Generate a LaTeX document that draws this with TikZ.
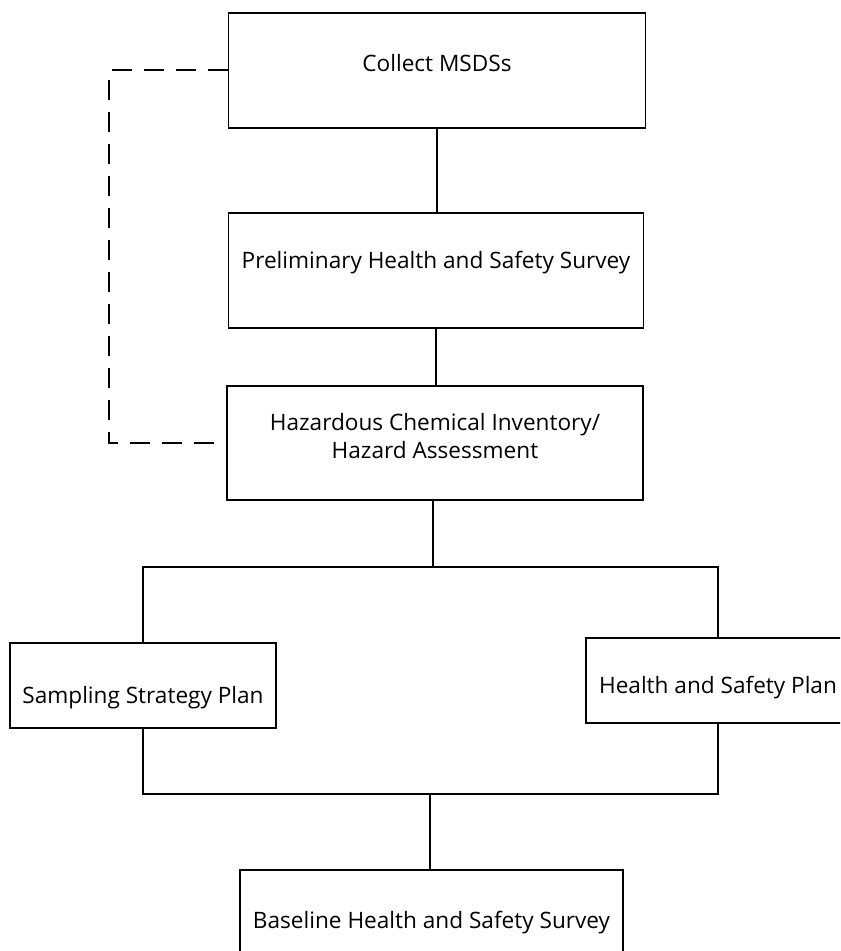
\documentclass[tikz,border=0pt]{standalone}
\usepackage{fontspec}
\setmainfont{Open Sans}
\begin{document}
\begin{tikzpicture}[x=0.5pt,y=-0.5pt,
  boxst/.style={draw, line width=0.9pt, rectangle, inner sep=0pt},
  txt/.style={font=\fontsize{11.3}{14}\selectfont, align=center, inner sep=0pt},
  conn/.style={line width=0.9pt},
  dashconn/.style={line width=1pt, dash pattern=on 10pt off 6pt}]
\useasboundingbox (0,0) rectangle (840,951);
\clip (0,0) rectangle (840,951);
\fill[white] (0,0) rectangle (840,951);
% boxes
\node[boxst, minimum width=208.5pt, minimum height=57.5pt] (b1) at (437,70.5) {};
\node[boxst, minimum width=207.5pt, minimum height=57.5pt] (b2) at (436,270.5) {};
\node[boxst, minimum width=208pt, minimum height=57pt] (b3) at (435,443) {};
\node[boxst, minimum width=133pt, minimum height=42.5pt] (ls) at (143,685.5) {};
\node[boxst, minimum width=132pt, minimum height=42.5pt] (rs) at (718,680.5) {};
\node[boxst, minimum width=191.5pt, minimum height=57.5pt] (bt) at (431.5,927.5) {};
% texts
\node[txt] (t1) at (437,63) {Collect MSDSs};
\node[txt] (t2) at (436,263) {Preliminary Health and Safety Survey};
\node[txt] (t3) at (435,436) {Hazardous Chemical Inventory/\\Hazard Assessment};
\node[txt] (t4) at (143,698) {Sampling Strategy Plan};
\node[txt] (t5) at (718,688) {Health and Safety Plan};
\node[txt] (t6) at (431.5,923) {Baseline Health and Safety Survey};
% connectors
\coordinate (jt) at (433,567);
\coordinate (jb) at (430,794);
\coordinate (dk) at (109,250);
\draw[conn] (b1.south) -- (b1.south |- b2.north);
\draw[conn] (b2.south) -- (b2.south |- b3.north);
\draw[conn] (b3.south -| jt) -- (jt);
\draw[conn] (ls.north) |- (jt) -| (rs.north);
\draw[conn] (ls.south) |- (jb) -| (rs.south);
\draw[conn] (jb) -- (jb |- bt.north);
\draw[dashconn] (b1.west) -| (dk) |- (b3.west);
\end{tikzpicture}
\end{document}
